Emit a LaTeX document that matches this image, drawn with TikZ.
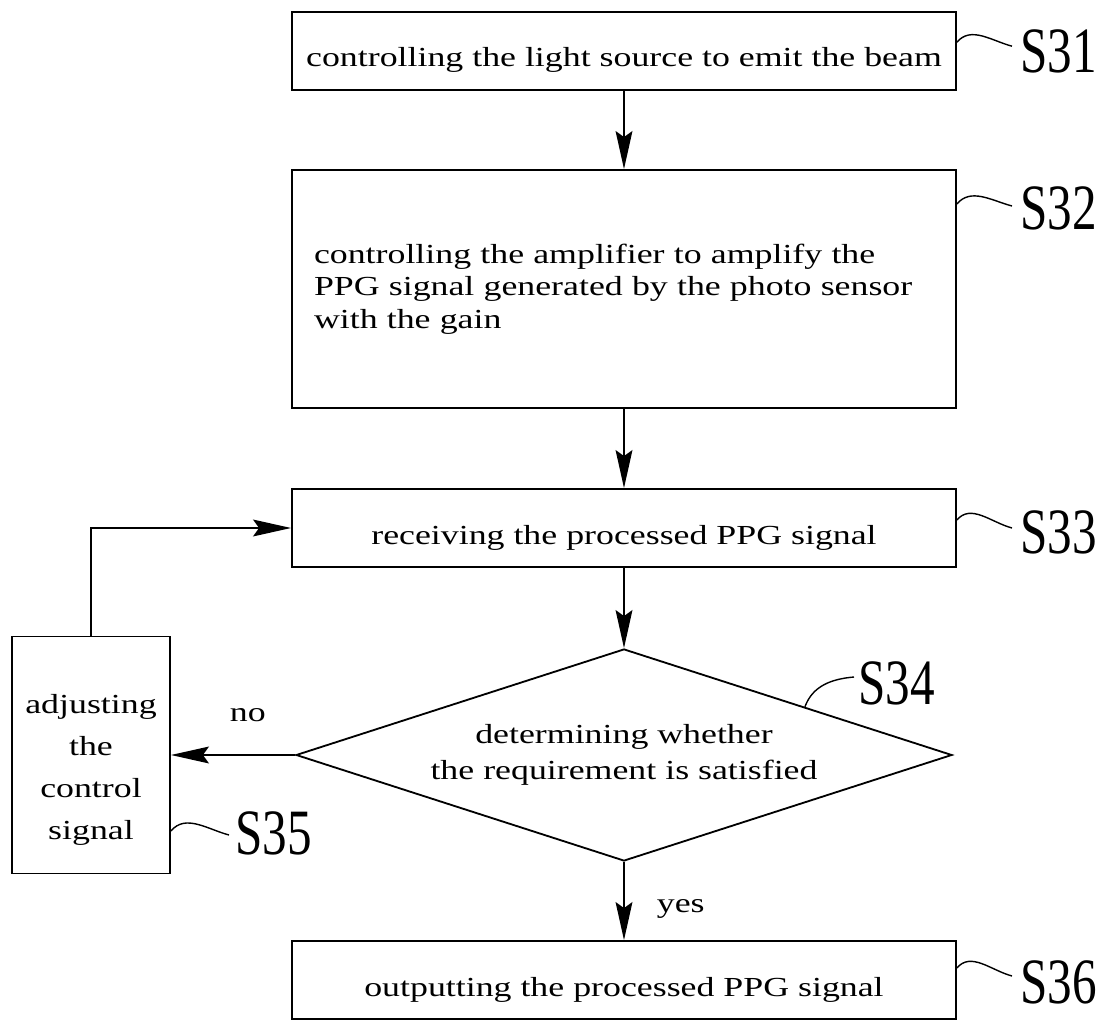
\documentclass[tikz,border=0pt]{standalone}
\usepackage{fontspec}
\setmainfont[FakeStretch=1.3]{Liberation Serif}
\newfontfamily\tagfont[FakeStretch=0.76]{Liberation Serif}
\usepackage{tikz}
\usetikzlibrary{shapes.geometric, arrows.meta, positioning, calc}

\begin{document}
\begin{tikzpicture}[
    font=\fontsize{19.6}{23}\selectfont,
    box/.style={draw, line width=1.3pt, minimum width=16.6cm, minimum height=1.95cm, inner sep=0pt},
    oneline/.style={text height=0.8cm, text depth=0cm},
    flow/.style={line width=1.3pt, -{Stealth[length=0.95cm, width=0.42cm, inset=0.15cm]}},
    leader/.style={line width=1pt},
    tag/.style={font=\tagfont\fontsize{46}{46}\selectfont, inner sep=0pt, anchor=west}
]
    \useasboundingbox (0,0) rectangle (27.675,-25.5);

    % Process steps
    \node[box, oneline] (s31) at (15.6,-1.275) {controlling the light source to emit the beam};
    \node[box, minimum height=5.95cm, text width=15.5cm, align=left] (s32) at (15.6,-7.225)
        {controlling the amplifier to amplify the\\PPG signal generated by the photo sensor\\with the gain};
    \node[box, oneline] (s33) at (15.6,-13.2) {receiving the processed PPG signal};
    \node[draw, diamond, line width=1.3pt, aspect=3.1, minimum width=16.4cm, minimum height=5.3cm,
        inner sep=0pt, align=center, font=\fontsize{19.6}{26}\selectfont] (s34) at (15.6,-18.875)
        {determining whether\\the requirement is satisfied};
    \node[draw, line width=1.3pt, minimum width=3.95cm, minimum height=5.925cm] (s35) at (2.275,-18.875) {};
    \node[align=center, font=\fontsize{19.6}{30}\selectfont] (s35t) at ([yshift=-0.37cm]s35.center)
        {adjusting\\the\\control\\signal};
    \node[box, oneline] (s36) at (15.6,-24.5) {outputting the processed PPG signal};

    % Step tags
    \node[tag] (l31) at (25.5,-1.275) {S31};
    \node[tag] (l32) at (25.5,-5.2) {S32};
    \node[tag] (l33) at (25.5,-13.3) {S33};
    \node[tag] (l34) at (21.45,-17.075) {S34};
    \node[tag] (l35) at (5.875,-20.825) {S35};
    \node[tag] (l36) at (25.5,-24.55) {S36};

    \draw[leader] ($(s31.east |- l31.west)+(0,0.22)$) to[out=50, in=165] ($(l31.west)+(-0.2,0.12)$);
    \draw[leader] ($(s32.east |- l32.west)+(0,0.1)$) to[out=50, in=165] ($(l32.west)+(-0.2,0.05)$);
    \draw[leader] ($(s33.east |- l33.west)+(0,0.3)$) to[out=50, in=165] ($(l33.west)+(-0.2,0.1)$);
    \draw[leader] ($(s34.north)!0.55!(s34.east)$) to[out=70, in=185] ($(l34.west)+(-0.1,0.15)$);
    \draw[leader] ($(s35.east |- l35.west)+(0,0.05)$) to[out=50, in=165] ($(l35.west)+(-0.15,-0.05)$);
    \draw[leader] ($(s36.east |- l36.west)+(0,0.35)$) to[out=50, in=165] ($(l36.west)+(-0.2,0.15)$);

    % Flow
    \draw[flow] (s31) -- (s32);
    \draw[flow] (s32) -- (s33);
    \draw[flow] (s33) -- (s34);
    \draw[flow] (s34) -- node[pos=0.6, right=0.8cm, inner sep=0pt] {yes} (s36);
    \draw[flow] (s34.west) -- node[pos=0.38, above=0.8cm, inner sep=0pt] {no} (s35.east);
    \draw[flow] (s35.north) |- (s33.west);
\end{tikzpicture}
\end{document}
